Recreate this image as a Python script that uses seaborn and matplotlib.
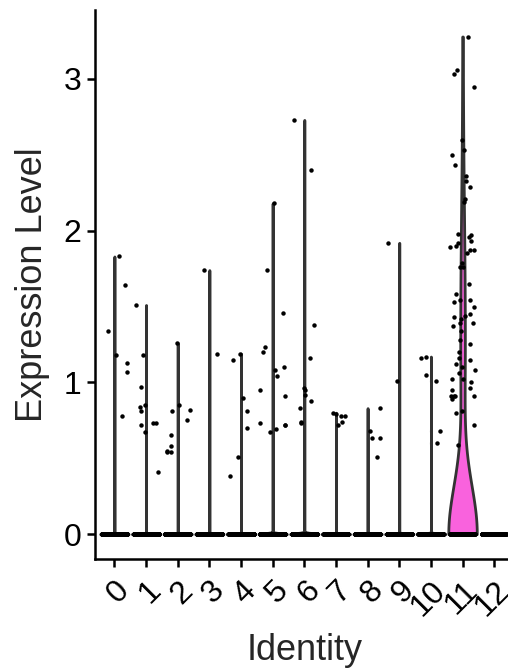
import numpy as np
import pandas as pd
import matplotlib
matplotlib.use("Agg")
import matplotlib.pyplot as plt
import seaborn as sns

# Identity clusters and cells with zero expression in each
idents = [str(i) for i in range(13)]
n_zero = [900, 800, 700, 650, 600, 550, 500, 450, 400, 350, 300, 180, 150]

# Non-zero expression values, per cluster
expr_0 = [1.83, 1.64, 1.34, 1.18, 1.13, 1.07, 0.78]
expr_1 = [1.51, 1.18, 0.97, 0.84, 0.85, 0.81, 0.73, 0.67, 0.73, 0.72, 0.41]
expr_2 = [1.26, 0.85, 0.82, 0.81, 0.75, 0.65, 0.58, 0.55, 0.54, 0.54]
expr_3 = [1.74, 1.19]
expr_4 = [1.19, 1.15, 0.90, 0.81, 0.70, 0.51, 0.38]
expr_5 = [2.18, 1.74, 1.46, 1.23, 1.20, 1.10, 1.08, 1.04, 0.95, 0.91,
          0.72, 0.73, 0.72, 0.69, 0.67]
expr_6 = [2.73, 2.40, 1.38, 1.16, 0.96, 0.95, 0.92, 0.88, 0.83, 0.74, 0.73]
expr_7 = [0.80, 0.79, 0.78, 0.78, 0.74, 0.72]
expr_8 = [0.83, 0.68, 0.63, 0.63, 0.51]
expr_9 = [1.92, 1.01]
expr_10 = [1.17, 1.16, 1.05, 1.01, 0.68, 0.60]
expr_11 = [3.28, 3.06, 3.03, 2.95, 2.60, 2.53, 2.50, 2.43, 2.33, 2.36,
           2.29, 2.19, 2.21, 1.97, 1.98, 1.96, 1.92, 1.90, 1.89, 1.87,
           1.93, 1.87, 1.85, 1.79, 1.76, 1.76, 1.65, 1.58, 1.54, 1.54,
           1.50, 1.53, 1.45, 1.44, 1.43, 1.42, 1.39, 1.39, 1.37, 1.34,
           1.28, 1.25, 1.20, 1.16, 1.15, 1.12, 1.08, 1.10, 1.06, 1.02,
           1.02, 1.00, 0.96, 0.95, 0.91, 0.91, 0.91, 0.89, 0.91, 0.81,
           0.80, 0.72, 0.59]
expr_12 = []

# ggplot hue palette for 13 groups
colors = ["#F8766D", "#E18A00", "#BE9C00", "#8CAB00", "#24B700", "#00BE70",
          "#00C1AB", "#00BBDA", "#00ACFC", "#8B93FF", "#D575FE", "#F962DD",
          "#FF6C91"]

nonzero = [expr_0, expr_1, expr_2, expr_3, expr_4, expr_5, expr_6, expr_7,
           expr_8, expr_9, expr_10, expr_11, expr_12]
rows = []
for ident, nz, vals in zip(idents, n_zero, nonzero):
    rows.append(pd.DataFrame({"ident": ident, "expr": [0.0] * nz + list(vals)}))
df = pd.concat(rows, ignore_index=True)
pal = dict(zip(idents, colors))

sns.set_style("ticks")
plt.rcParams["font.family"] = ["Liberation Sans", "DejaVu Sans"]

fig = plt.figure(figsize=(5.08, 6.69), dpi=100)
ax = fig.add_axes([0.1878, 0.1644, 0.8224, 0.8206])

vkw = dict(x="ident", y="expr", order=idents, hue="ident", palette=pal,
           legend=False, cut=0, density_norm="width", inner=None,
           linewidth=2.0, linecolor="#333333", width=0.9, saturation=1, ax=ax)
# clusters with a few non-zero cells collapse to a line
sns.violinplot(data=df[~df["ident"].isin(["11", "12"])], bw_adjust=0.1,
               gridsize=600, **vkw)
# cluster 11 has a visible body
sns.violinplot(data=df[df["ident"] == "11"], bw_adjust=1.25, gridsize=300, **vkw)

np.random.seed(3)
sns.stripplot(data=df, x="ident", y="expr", order=idents, color="black",
              size=3.2, jitter=0.4, linewidth=0, zorder=3, ax=ax)

ax.set_xlim(-0.6, 12.6)
ax.set_ylim(-0.1645, 3.4545)
ax.set_yticks([0, 1, 2, 3])
ax.set_xticks(range(len(idents)))
ax.set_xticklabels(idents, rotation=45, ha="right", va="top",
                   rotation_mode="anchor")
ax.tick_params(axis="both", labelsize=23, length=6, width=1.8,
               color="black", labelcolor="black")
ax.tick_params(axis="x", pad=6)
ax.tick_params(axis="y", pad=4)
for s in ["top", "right"]:
    ax.spines[s].set_visible(False)
for s in ["left", "bottom"]:
    ax.spines[s].set_linewidth(1.8)
    ax.spines[s].set_color("black")
ax.set_xlabel("Identity", fontsize=26, labelpad=8)
ax.set_ylabel("Expression Level", fontsize=26, labelpad=10)

fig.savefig("out.png", dpi=100)
